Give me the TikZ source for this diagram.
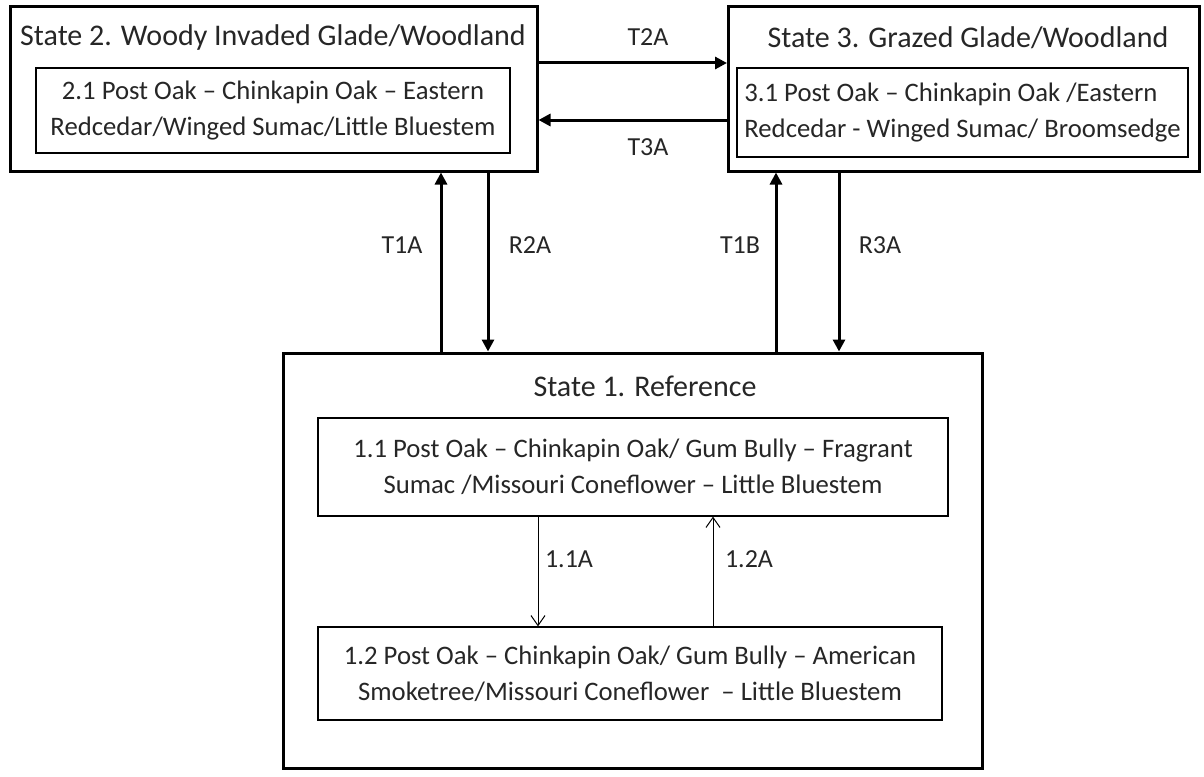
\documentclass[tikz,border=0pt]{standalone}
\usepackage{fontspec}
\setmainfont{Carlito}
\usetikzlibrary{arrows.meta}

\begin{document}
\begin{tikzpicture}[x=1pt,y=-1pt,
  statebox/.style={draw,line width=3pt,inner sep=0pt},
  phasebox/.style={draw,line width=1.2pt,inner sep=0pt,align=center,
    font=\fontsize{26.7}{36}\selectfont},
  title/.style={font=\fontsize{30}{34}\selectfont},
  lbl/.style={font=\fontsize{26}{30}\selectfont},
  bigarr/.style={line width=3pt,-{Triangle[length=12pt,width=12pt]}},
  smallarr/.style={line width=1pt,-{Straight Barb[length=10pt,width=14pt]}}]
\useasboundingbox (0,0) rectangle (1204,776);
\tikzset{every node/.append style={text=black!85}}
% states
\node[statebox,minimum width=527pt,minimum height=164pt] (s2) at (273.5,89) {};
\node[statebox,minimum width=471pt,minimum height=164pt] (s3) at (964,89) {};
\node[statebox,minimum width=699pt,minimum height=415pt] (s1) at (632.5,560.5) {};
\node[title] (s2t) at (273,38) {State 2. Woody Invaded Glade/Woodland};
\node[title] (s3t) at (968,38) {State 3. Grazed Glade/Woodland};
\node[title] (s1t) at (645,386) {State 1. Reference};
% community phases
\node[phasebox,minimum width=474pt,minimum height=85pt] (p21) at (273,110.5)
  {2.1 Post Oak -- Chinkapin Oak -- Eastern\\Redcedar/Winged Sumac/Little Bluestem};
\node[phasebox,align=left,minimum width=451pt,minimum height=89pt] (p31) at (962.5,112.5)
  {3.1 Post Oak -- Chinkapin Oak /Eastern\\Redcedar - Winged Sumac/ Broomsedge};
\node[phasebox,minimum width=630pt,minimum height=98pt] (p11) at (633,467)
  {1.1 Post Oak -- Chinkapin Oak/ Gum Bully -- Fragrant\\Sumac /Missouri Coneflower -- Little Bluestem};
\node[phasebox,minimum width=624pt,minimum height=93pt] (p12) at (630,673.5)
  {1.2 Post Oak -- Chinkapin Oak/ Gum Bully -- American\\Smoketree/Missouri Coneflower~ -- Little Bluestem};
% transitions
\draw[bigarr] (s2.east |- 0,63) -- (s3.west |- 0,63);
\draw[bigarr] (s3.west |- 0,120) -- (s2.east |- 0,120);
\draw[bigarr] (s1.north -| 441,0) -- (s2.south -| 441,0);
\draw[bigarr] (s2.south -| 488,0) -- (s1.north -| 488,0);
\draw[bigarr] (s1.north -| 776,0) -- (s3.south -| 776,0);
\draw[bigarr] (s3.south -| 839,0) -- (s1.north -| 839,0);
\draw[smallarr] (p11.south -| 538,0) -- (p12.north -| 538,0);
\draw[smallarr] (p12.north -| 713,0) -- (p11.south -| 713,0);
\node[lbl] (t2a) at (648,37) {T2A};
\node[lbl] (t3a) at (648,147) {T3A};
\node[lbl] (t1a) at (402,245) {T1A};
\node[lbl] (r2a) at (530,245) {R2A};
\node[lbl] (t1b) at (740,245) {T1B};
\node[lbl] (r3a) at (880,245) {R3A};
\node[lbl] (a11) at (569,559) {1.1A};
\node[lbl] (a12) at (749,559) {1.2A};
\end{tikzpicture}
\end{document}
